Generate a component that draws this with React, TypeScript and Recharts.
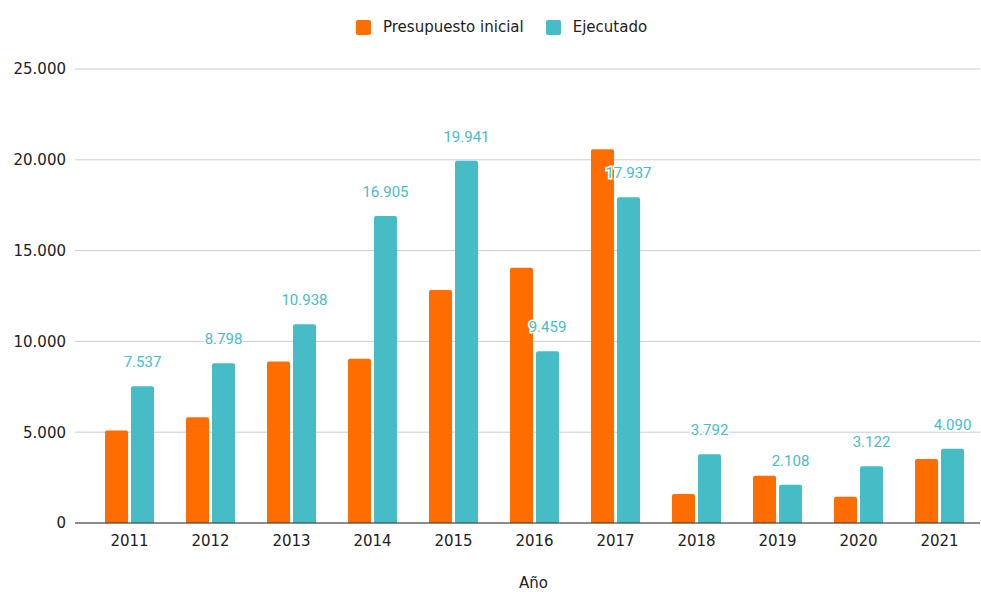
import { BarChart, Bar, XAxis, YAxis, CartesianGrid, Legend, LabelList } from 'recharts';

const YEARS = ['2011', '2012', '2013', '2014', '2015', '2016', '2017', '2018', '2019', '2020', '2021'];
const PRESUPUESTO = [5100, 5820, 8900, 9050, 12830, 14050, 20580, 1600, 2600, 1450, 3520];
const EJECUTADO = [7537, 8798, 10938, 16905, 19941, 9459, 17937, 3792, 2108, 3122, 4090];
const Y_TICKS = [0, 5000, 10000, 15000, 20000, 25000];

const ORANGE = '#ff6d01';
const TEAL = '#46bdc6';
const AXIS_FONT = '"DejaVu Sans", Verdana, sans-serif';

const data = YEARS.map((year, i) => ({
  year,
  presupuesto: PRESUPUESTO[i],
  ejecutado: EJECUTADO[i],
}));

function fmtMiles(n: number) {
  return String(Math.round(n)).replace(/\B(?=(\d{3})+(?!\d))/g, '.');
}

function LegendContent() {
  const items = [
    { name: 'Presupuesto inicial', color: ORANGE },
    { name: 'Ejecutado', color: TEAL },
  ];
  return (
    <div style={{ display: 'flex', alignItems: 'center', height: 28, paddingLeft: 356, fontFamily: AXIS_FONT, fontSize: 15, color: '#222' }}>
      {items.map((it) => (
        <div key={it.name} style={{ display: 'flex', alignItems: 'center', marginRight: 22 }}>
          <div style={{ width: 15, height: 15, borderRadius: 2, background: it.color, marginRight: 12 }} />
          <span>{it.name}</span>
        </div>
      ))}
    </div>
  );
}

export default function App() {
  return (
    <div style={{ position: 'absolute', left: 0, top: 0, background: '#fff' }}>
      <BarChart
        width={981}
        height={592}
        data={data}
        margin={{ top: 41, right: 1, bottom: 0, left: 0 }}
        barSize={23}
        barGap={3}
      >
        <CartesianGrid vertical={false} stroke="#cccccc" />
        <XAxis
          dataKey="year"
          height={69}
          padding={{ left: 14, right: 0 }}
          axisLine={{ stroke: '#333333' }}
          tickLine={false}
          tickSize={0}
          tickMargin={12}
          tick={{ fill: '#222', fontSize: 15, fontFamily: AXIS_FONT }}
          label={{ value: 'Año', position: 'insideBottom', offset: 4, dx: 6, fill: '#222', fontSize: 15, fontFamily: AXIS_FONT }}
        />
        <YAxis
          width={75}
          domain={[0, 25000]}
          ticks={Y_TICKS}
          axisLine={false}
          tickLine={false}
          tickSize={0}
          tickMargin={9}
          tickFormatter={fmtMiles}
          tick={{ fill: '#222', fontSize: 15, fontFamily: AXIS_FONT }}
        />
        <Legend verticalAlign="top" content={<LegendContent />} wrapperStyle={{ top: 13, left: 0, width: 981 }} />
        <Bar dataKey="presupuesto" name="Presupuesto inicial" fill={ORANGE} radius={[2, 2, 0, 0]} isAnimationActive={false} />
        <Bar dataKey="ejecutado" name="Ejecutado" fill={TEAL} radius={[2, 2, 0, 0]} isAnimationActive={false}>
          <LabelList
            dataKey="ejecutado"
            position="top"
            offset={19}
            formatter={(v: number) => fmtMiles(v)}
            style={{ fill: TEAL, fontSize: 15, fontFamily: 'Roboto, sans-serif', stroke: '#fff', strokeWidth: 3, paintOrder: 'stroke' }}
          />
        </Bar>
      </BarChart>
    </div>
  );
}
